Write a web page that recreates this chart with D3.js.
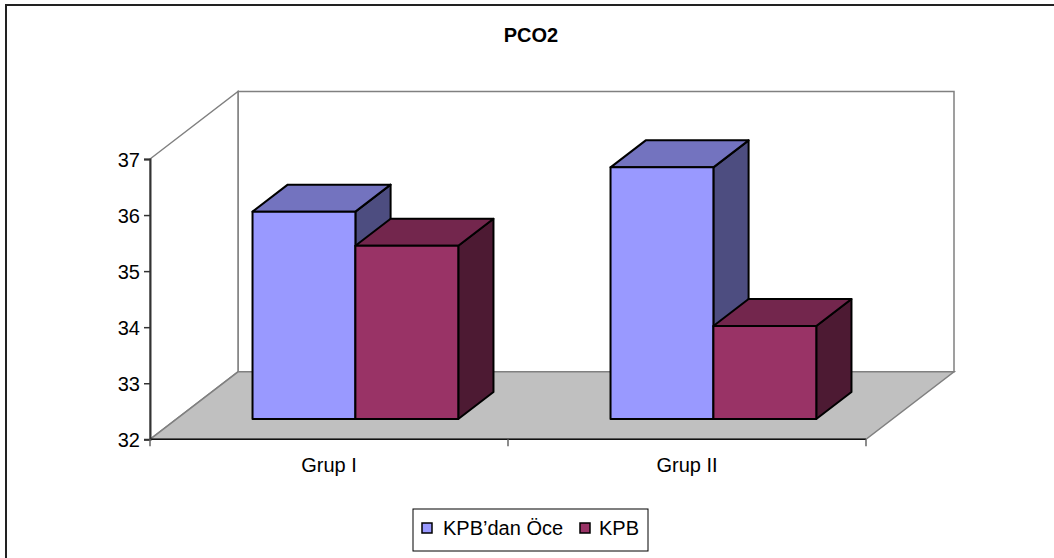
<!DOCTYPE html>
<html>
<head>
<meta charset="utf-8">
<script src="https://cdn.jsdelivr.net/npm/d3@7"></script>
<style>
  html,body{margin:0;padding:0;background:#fff;}
  svg{display:block;font-family:"Liberation Sans",Arial,sans-serif;}
</style>
</head>
<body>
<div id="chart"></div>
<script>
(function(){
  const categories=["Grup I","Grup II"];
  const series=["KPB’dan Öce","KPB"];
  const before=[35.70,36.49];
  const during=[35.09,33.66];
  const yTicks=[32,33,34,35,36,37];

  const ink="#000", wallLine="#808080", floorFill="#c0c0c0";
  const front=["#9999ff","#993366"], top=["#7373bf","#73264d"], side=["#4d4d80","#4d1a33"];

  const W=1054,H=558;
  const svg=d3.select("#chart").append("svg").attr("width",W).attr("height",H);

  // chart frame (right/bottom edges fall outside the picture)
  svg.append("rect").attr("x",6).attr("y",5).attr("width",1100).attr("height",600)
    .attr("fill","#fff").attr("stroke","#222").attr("stroke-width",2);

  svg.append("text").attr("x",531).attr("y",42).attr("text-anchor","middle")
    .attr("font-size",20).attr("font-weight","bold").text("PCO2");

  // front plane scales + oblique depth
  const y=d3.scaleLinear().domain([32,37]).range([439.3,159]);
  const x0=d3.scaleBand().domain(categories).range([150,866]);
  const x1=d3.scaleBand().domain(series).range([0,x0.bandwidth()]).paddingOuter(.74);
  const DX=88,DY=-67.5;
  const P=(x,v,d)=>[x+DX*d,y(v)+DY*d];
  const poly=pts=>"M"+pts.map(p=>p.join(",")).join("L")+"Z";
  const [y0,y1]=y.domain(), xl=x0.range()[0], xr=x0.range()[1];

  // back wall, side wall, floor
  svg.append("path").attr("d",poly([P(xl,y0,1),P(xl,y1,1),P(xr,y1,1),P(xr,y0,1)]))
    .attr("fill","#fff").attr("stroke",wallLine).attr("stroke-width",1.5);
  svg.append("path").attr("d",poly([P(xl,y0,0),P(xl,y1,0),P(xl,y1,1),P(xl,y0,1)]))
    .attr("fill","#fff").attr("stroke",wallLine).attr("stroke-width",1.5);
  svg.append("path").attr("d",poly([P(xl,y0,0),P(xl,y0,1),P(xr,y0,1),P(xr,y0,0)]))
    .attr("fill",floorFill).attr("stroke",wallLine).attr("stroke-width",1.5);
  svg.append("line").attr("x1",xl).attr("x2",xr).attr("y1",y(y0)).attr("y2",y(y0))
    .attr("stroke","#111").attr("stroke-width",1.5);

  // value axis on the front-left edge
  svg.append("g").attr("transform",`translate(${xl},0)`)
    .call(d3.axisLeft(y).tickValues(yTicks).tickSize(6).tickPadding(4).tickFormat(d3.format("d")))
    .call(s=>s.select(".domain").attr("stroke","#333").attr("stroke-width",2))
    .call(s=>s.selectAll("line").attr("stroke","#333").attr("stroke-width",1.5))
    .call(s=>s.selectAll("text").attr("font-size",20).attr("fill",ink)
      .attr("font-family","'Liberation Sans',Arial,sans-serif").attr("dy","0.36em"));

  // category axis ticks + labels
  const catTicks=[xl].concat(categories.map(c=>x0(c)+x0.bandwidth()));
  svg.selectAll(".ctick").data(catTicks).join("line")
    .attr("x1",d=>d).attr("x2",d=>d).attr("y1",y(y0)).attr("y2",y(y0)+7)
    .attr("stroke","#666").attr("stroke-width",1.5);
  svg.selectAll(".clabel").data(categories).join("text")
    .attr("x",d=>x0(d)+x0.bandwidth()/2).attr("y",472)
    .attr("text-anchor","middle").attr("font-size",20).text(d=>d);

  // bars
  const bars=[];
  categories.forEach((c,i)=>{
    bars.push({cat:c,s:0,v:before[i]});
    bars.push({cat:c,s:1,v:during[i]});
  });
  const f0=.3,f1=.7;
  const g=svg.append("g").selectAll("g").data(bars).join("g")
    .attr("stroke",ink).attr("stroke-width",2).attr("stroke-linejoin","round");
  g.each(function(d){
    const a=x0(d.cat)+x1(series[d.s]), b=a+x1.bandwidth();
    const el=d3.select(this);
    el.append("path").attr("d",poly([P(b,y0,f0),P(b,d.v,f0),P(b,d.v,f1),P(b,y0,f1)])).attr("fill",side[d.s]);
    el.append("path").attr("d",poly([P(a,d.v,f0),P(a,d.v,f1),P(b,d.v,f1),P(b,d.v,f0)])).attr("fill",top[d.s]);
    el.append("path").attr("d",poly([P(a,y0,f0),P(a,d.v,f0),P(b,d.v,f0),P(b,y0,f0)])).attr("fill",front[d.s]);
  });

  // legend
  const lg=svg.append("g").attr("transform","translate(413,509)");
  lg.append("rect").attr("width",235).attr("height",42).attr("fill","#fff").attr("stroke",ink).attr("stroke-width",1);
  const items=[{x:9,tx:30},{x:167,tx:186}];
  series.forEach((s,i)=>{
    lg.append("rect").attr("x",items[i].x).attr("y",14).attr("width",10).attr("height",10)
      .attr("fill",front[i]).attr("stroke",ink).attr("stroke-width",1.5);
    lg.append("text").attr("x",items[i].tx).attr("y",26).attr("font-size",20).text(s);
  });
})();
</script>
</body>
</html>
